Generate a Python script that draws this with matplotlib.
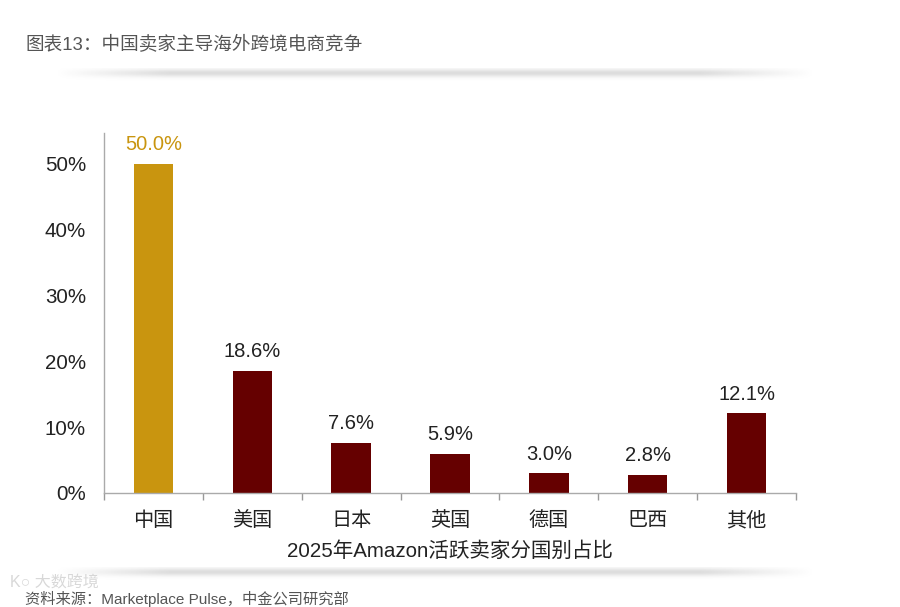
import matplotlib.pyplot as plt
import numpy as np

plt.rcParams['font.family'] = ['Liberation Sans', 'Noto Sans CJK SC', 'DejaVu Sans']

countries = ['中国', '美国', '日本', '英国', '德国', '巴西', '其他']
shares = [50.0, 18.6, 7.6, 5.9, 3.0, 2.8, 12.1]
yticks = [0, 10, 20, 30, 40, 50]

gold = '#C9950F'
maroon = '#650000'
colors = [gold] + [maroon] * (len(countries) - 1)

fig = plt.figure(figsize=(9, 6.07), dpi=100)
fig.patch.set_facecolor('white')

# 标题
fig.text(25 / 900, 1 - 44 / 607, '图表13：中国卖家主导海外跨境电商竞争',
         fontsize=13.4, color='#555555', va='center', ha='left')


def shadow(y0, y1, x0=55, x1=815):
    # 阴影分隔条
    ax_s = fig.add_axes([x0 / 900, 1 - y1 / 607, (x1 - x0) / 900, (y1 - y0) / 607])
    xs = np.linspace(0, 1, 300)
    ys = np.linspace(0, 1, 20)
    fade_x = np.clip(np.minimum(xs / 0.15, (1 - xs) / 0.15), 0, 1)
    fade_y = np.exp(-((ys - 0.35) / 0.3) ** 2)
    alpha = np.outer(fade_y, fade_x) * 0.3
    img = np.zeros((len(ys), len(xs), 4))
    img[..., :3] = 0.55
    img[..., 3] = alpha
    ax_s.imshow(img, aspect='auto', extent=[0, 1, 0, 1], origin='upper')
    ax_s.axis('off')


shadow(68, 82)
shadow(567, 581)

ax = fig.add_axes([104 / 900, 1 - 493 / 607, 692 / 900, 360 / 607])
x = np.arange(len(countries))
bars = ax.bar(x, shares, width=0.4, color=colors)

ax.set_xlim(-0.5, len(countries) - 0.5)
ax.set_ylim(0, 54.7)
ax.set_yticks(yticks)
ax.set_yticklabels([f'{v}%' for v in yticks], fontsize=14.8, color='#222222')
ax.tick_params(axis='y', length=0, pad=13)

ax.set_xticks(x)
ax.set_xticklabels(countries, fontsize=14.5, color='#222222')
ax.tick_params(axis='x', length=0, pad=13)
ax.set_xticks(np.arange(len(countries) + 1) - 0.5, minor=True)
ax.tick_params(axis='x', which='minor', length=5, color='#999999', width=1)

for s in ['top', 'right']:
    ax.spines[s].set_visible(False)
for s in ['left', 'bottom']:
    ax.spines[s].set_color('#aaaaaa')
    ax.spines[s].set_linewidth(1)

for b, v, c in zip(bars, shares, colors):
    ax.annotate(f'{v:.1f}%', (b.get_x() + b.get_width() / 2, v),
                xytext=(0, 7), textcoords='offset points',
                ha='center', va='bottom', fontsize=14.5,
                color=gold if c == gold else '#222222')

ax.set_xlabel('2025年Amazon活跃卖家分国别占比', fontsize=14.8, color='#222222', labelpad=8)

# 来源
fig.text(25 / 900, 1 - 599 / 607, '资料来源：Marketplace Pulse，中金公司研究部',
         fontsize=11, color='#555555', va='center', ha='left')
fig.text(10 / 900, 1 - 582 / 607, 'K○ 大数跨境', fontsize=11.5,
         color='#c8c8c8', alpha=0.7, va='center', ha='left')

fig.savefig('out.png', dpi=100)
